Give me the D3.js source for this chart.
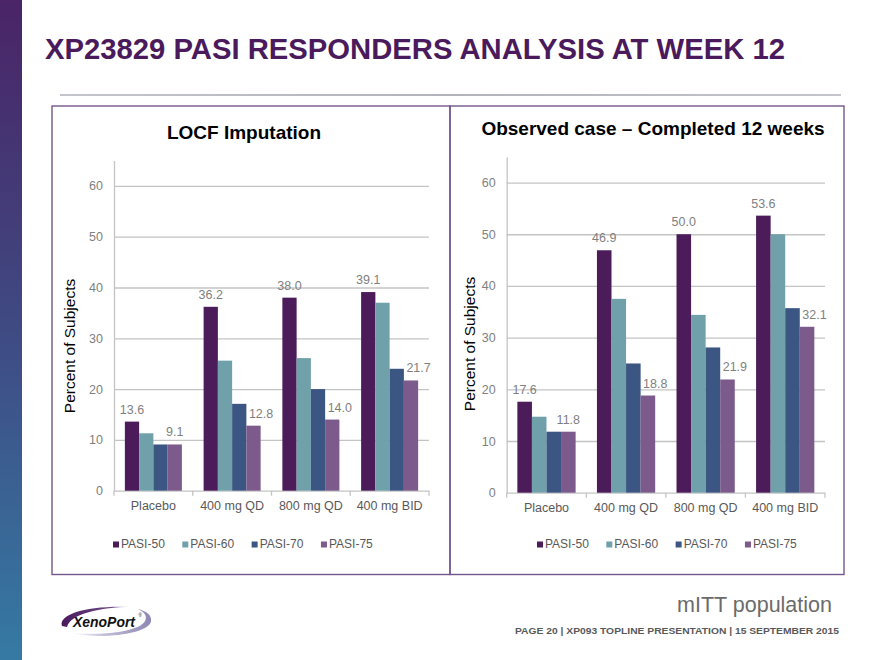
<!DOCTYPE html>
<html>
<head>
<meta charset="utf-8">
<script src="https://cdn.jsdelivr.net/npm/d3@7"></script>
<style>
  html, body { margin: 0; padding: 0; background: #fff; }
  svg { display: block; font-family: "Liberation Sans", Arial, Helvetica, sans-serif; }
</style>
</head>
<body>
<svg id="chart" width="880" height="660"></svg>
<script>
// ---------------- DATA ----------------
const categories = ["Placebo", "400 mg QD", "800 mg QD", "400 mg BID"];
const seriesNames = ["PASI-50", "PASI-60", "PASI-70", "PASI-75"];

// LOCF Imputation
const locfPasi50 = [13.6, 36.2, 38.0, 39.1];
const locfPasi60 = [11.3, 25.6, 26.1, 37.0];
const locfPasi70 = [9.1, 17.1, 20.0, 24.0];
const locfPasi75 = [9.1, 12.8, 14.0, 21.7];

// Observed case – Completed 12 weeks
const obsPasi50 = [17.6, 46.9, 50.0, 53.6];
const obsPasi60 = [14.7, 37.5, 34.4, 50.0];
const obsPasi70 = [11.8, 25.0, 28.1, 35.7];
const obsPasi75 = [11.8, 18.8, 21.9, 32.1];

const yTicks = [0, 10, 20, 30, 40, 50, 60];
const labeledSeries = ["PASI-50", "PASI-75"];

const slideTitle = "XP23829 PASI RESPONDERS ANALYSIS AT WEEK 12";
const leftTitle = "LOCF Imputation";
const rightTitle = "Observed case \u2013 Completed 12 weeks";
const yAxisTitle = "Percent of Subjects";
const footNote = "mITT population";
const footerText = "PAGE 20  |  XP093 TOPLINE PRESENTATION  |  15 SEPTEMBER 2015";

// ---------------- STYLE ----------------
const seriesColors = ["#4c1b5a", "#70a1ab", "#3b5683", "#7c5a8b"];
const gridColor = "#c4c4c4";
const tickTextColor = "#7f7f7f";
const catTextColor = "#595959";

const svg = d3.select("#chart");
const defs = svg.append("defs");

// sidebar gradient
const sg = defs.append("linearGradient").attr("id", "sideGrad")
  .attr("x1", 0).attr("y1", 0).attr("x2", 0).attr("y2", 1);
sg.append("stop").attr("offset", "0%").attr("stop-color", "#4a2466");
sg.append("stop").attr("offset", "50%").attr("stop-color", "#3f4a83");
sg.append("stop").attr("offset", "100%").attr("stop-color", "#357aa3");
svg.append("rect").attr("x", 0).attr("y", 0).attr("width", 22).attr("height", 660)
  .attr("fill", "url(#sideGrad)");

// slide title
svg.append("text").attr("x", 45).attr("y", 59)
  .attr("font-size", 29).attr("font-weight", "bold").attr("fill", "#4a1a5c")
  .attr("textLength", 740).attr("lengthAdjust", "spacingAndGlyphs")
  .text(slideTitle);

// separator line
const lg = defs.append("linearGradient").attr("id", "lineGrad");
lg.append("stop").attr("offset", "0%").attr("stop-color", "#c4c4cc");
lg.append("stop").attr("offset", "50%").attr("stop-color", "#b3b3bd");
lg.append("stop").attr("offset", "100%").attr("stop-color", "#c4c4cc");
svg.append("rect").attr("x", 60).attr("y", 94).attr("width", 781).attr("height", 2)
  .attr("fill", "url(#lineGrad)");

// panel boxes
svg.append("rect").attr("x", 52).attr("y", 106).attr("width", 398).attr("height", 468.5)
  .attr("fill", "none").attr("stroke", "#74568c").attr("stroke-width", 1.4);
svg.append("rect").attr("x", 450).attr("y", 106).attr("width", 394).attr("height", 468.5)
  .attr("fill", "none").attr("stroke", "#74568c").attr("stroke-width", 1.4);

// ---------------- CHARTS ----------------
function drawChart(cfg) {
  const g = svg.append("g");
  const data = seriesNames.map((s, i) => ({ name: s, values: cfg.series[i] }));

  const y = d3.scaleLinear().domain([0, 65]).range([cfg.bottom, cfg.top]);
  const x0 = d3.scaleBand().domain(categories).range([cfg.left, cfg.right]);
  const bw = x0.bandwidth();
  const x1 = d3.scaleBand().domain(seriesNames).range([bw * cfg.groupPad, bw * (1 - cfg.groupPad)]);

  // title
  g.append("text").attr("x", cfg.titleX).attr("y", cfg.titleY)
    .attr("text-anchor", "middle").attr("font-size", 19).attr("font-weight", "bold")
    .attr("fill", "#000").text(cfg.title);

  // y axis with gridlines
  const yAxis = d3.axisLeft(y).tickValues(yTicks)
    .tickSizeInner(-(cfg.right - cfg.left)).tickSizeOuter(0).tickPadding(11);
  const ya = g.append("g").attr("transform", `translate(${cfg.left},0)`).call(yAxis);
  ya.select(".domain").attr("stroke", gridColor).attr("stroke-width", 1.3);
  ya.selectAll(".tick line").attr("stroke", gridColor).attr("stroke-width", 1.3);
  ya.selectAll(".tick text").attr("font-size", 12.5).attr("fill", tickTextColor)
    .attr("font-family", "Liberation Sans, Arial, sans-serif");

  // x axis labels
  const xAxis = d3.axisBottom(x0).tickSize(0).tickPadding(10);
  const xa = g.append("g").attr("transform", `translate(0,${cfg.bottom})`).call(xAxis);
  xa.select(".domain").remove();
  xa.selectAll(".tick text").attr("font-size", 12.5).attr("fill", catTextColor)
    .attr("font-family", "Liberation Sans, Arial, sans-serif");

  // category boundary tick marks
  const bounds = categories.map(c => x0(c)).concat([x0.range()[1]]);
  g.selectAll(".bt").data(bounds).join("line")
    .attr("x1", d => d).attr("x2", d => d)
    .attr("y1", cfg.bottom).attr("y2", cfg.bottom + 5)
    .attr("stroke", gridColor).attr("stroke-width", 1.3);

  // bars
  const groups = g.selectAll(".grp").data(categories).join("g")
    .attr("transform", c => `translate(${x0(c)},0)`);
  groups.selectAll("rect").data((c, ci) => data.map((s, si) => ({ s: s.name, si, v: s.values[ci] })))
    .join("rect")
    .attr("x", d => x1(d.s)).attr("width", x1.bandwidth())
    .attr("y", d => y(d.v)).attr("height", d => y(0) - y(d.v))
    .attr("fill", d => seriesColors[d.si]);

  // data labels (nudged right when the neighbouring taller bar would overlap them)
  groups.each(function (c, ci) {
    const grp = d3.select(this);
    data.forEach((s, si) => {
      if (!labeledSeries.includes(s.name)) return;
      const v = s.values[ci];
      const baseY = y(v) - 8;
      const t = grp.append("text").attr("class", "lbl")
        .attr("y", baseY).attr("font-size", 12.5).attr("fill", tickTextColor)
        .text(d3.format(".1f")(v));
      const w = t.node().getComputedTextLength();
      let left = x1(s.name) + x1.bandwidth() / 2 - w / 2;
      if (si > 0) {
        const prev = data[si - 1];
        const prevTop = y(prev.values[ci]);
        const prevRight = x1(prev.name) + x1.bandwidth();
        if (prevTop < baseY && left < prevRight + 2) left = prevRight + 2.5;
      }
      t.attr("x", left);
    });
  });

  // y axis title
  g.append("text")
    .attr("transform", `translate(${cfg.yTitleX},${cfg.yTitleY}) rotate(-90)`)
    .attr("text-anchor", "middle").attr("dominant-baseline", "central")
    .attr("font-size", 15.5).attr("fill", "#000").text(yAxisTitle);

  // legend
  const leg = g.append("g").attr("transform", `translate(${cfg.legendX},548)`);
  let cx = 0;
  seriesNames.forEach((s, i) => {
    const it = leg.append("g").attr("transform", `translate(${cx},0)`);
    it.append("rect").attr("x", 0).attr("y", -6.5).attr("width", 6).attr("height", 6)
      .attr("fill", seriesColors[i]);
    const t = it.append("text").attr("x", 8).attr("y", 0).attr("font-size", 12)
      .attr("fill", catTextColor).text(s);
    cx += 8 + t.node().getComputedTextLength() + 17.5;
  });
}

drawChart({
  title: leftTitle, titleX: 244, titleY: 139,
  left: 114, right: 429, top: 160.5, bottom: 490.7, groupPad: 0.138,
  yTitleX: 69, yTitleY: 346, legendX: 113,
  series: [locfPasi50, locfPasi60, locfPasi70, locfPasi75]
});
drawChart({
  title: rightTitle, titleX: 653, titleY: 135,
  left: 506.7, right: 825, top: 156.7, bottom: 492.7, groupPad: 0.134,
  yTitleX: 469, yTitleY: 344, legendX: 537,
  series: [obsPasi50, obsPasi60, obsPasi70, obsPasi75]
});

// ---------------- FOOTER ----------------
svg.append("text").attr("x", 832).attr("y", 611.5).attr("text-anchor", "end")
  .attr("font-size", 21.5).attr("fill", "#6b6b6b").text(footNote);
svg.append("text").attr("x", 515).attr("y", 633.5)
  .attr("font-size", 9.5).attr("font-weight", "bold").attr("fill", "#595959")
  .attr("textLength", 324).attr("lengthAdjust", "spacingAndGlyphs")
  .text(footerText);

// logo
const pg = defs.append("linearGradient").attr("id", "purpGrad").attr("x1", 0).attr("x2", 1);
pg.append("stop").attr("offset", "0%").attr("stop-color", "#4a1a5c");
pg.append("stop").attr("offset", "70%").attr("stop-color", "#6a4a86");
pg.append("stop").attr("offset", "100%").attr("stop-color", "#ffffff");
const gg = defs.append("linearGradient").attr("id", "grayGrad").attr("x1", 0).attr("x2", 1);
gg.append("stop").attr("offset", "0%").attr("stop-color", "#ffffff");
gg.append("stop").attr("offset", "40%").attr("stop-color", "#c4bfd8");
gg.append("stop").attr("offset", "100%").attr("stop-color", "#8f86b4");
svg.append("path")
  .attr("d", "M62,626 C58,614 88,605 132,607 C100,607 70,614 67,627 Z")
  .attr("fill", "url(#purpGrad)");
svg.append("path")
  .attr("d", "M72,633 C100,640 150,634 151,621 C152,615 146,611 138,609 C146,613 147,617 145,621 C140,631 105,636 72,633 Z")
  .attr("fill", "url(#grayGrad)");
svg.append("text").attr("x", 73).attr("y", 626.5)
  .attr("font-size", 15).attr("font-weight", "bold").attr("font-style", "italic")
  .attr("fill", "#111").attr("textLength", 62).attr("lengthAdjust", "spacingAndGlyphs")
  .text("XenoPort");
svg.append("text").attr("x", 138.5).attr("y", 617).attr("font-size", 4.5)
  .attr("fill", "#111").text("\u00ae");
</script>
</body>
</html>
